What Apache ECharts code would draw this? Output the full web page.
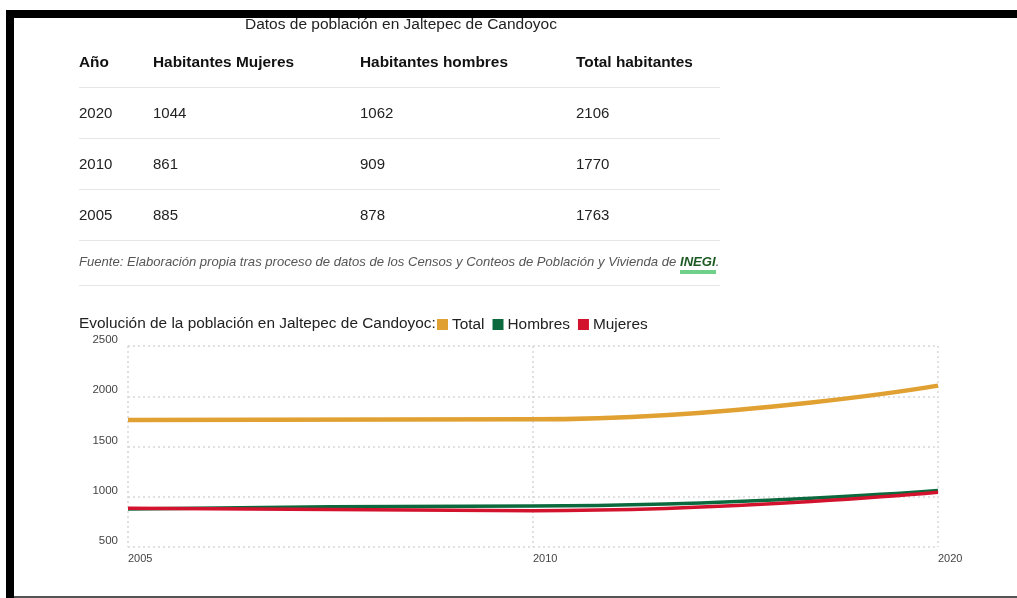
<!DOCTYPE html>
<html><head><meta charset="utf-8">
<script src="https://cdn.jsdelivr.net/npm/echarts@6/dist/echarts.min.js"></script>
<style>
html,body{margin:0;padding:0;background:#fff;width:1017px;height:598px;overflow:hidden;font-family:"Liberation Sans",Arial,sans-serif;}
.abs{position:absolute;}
#chart{position:absolute;left:0;top:0;width:1017px;height:598px;}
.hl{position:absolute;left:79px;width:641px;height:1px;background:#e6e6e6;}
.t{position:absolute;font-size:15px;color:#222;line-height:18px;white-space:nowrap;}
.th{font-weight:bold;color:#111;font-size:15.4px;}
</style></head>
<body>
<div id="chart"></div>
<div class="abs" style="left:6px;top:10px;width:1011px;height:8px;background:#000;"></div>
<div class="abs" style="left:6px;top:10px;width:8px;height:588px;background:#000;"></div>
<div class="abs" style="left:14px;top:596px;width:1003px;height:2px;background:#555;"></div>
<div id="tbl"></div>
<script>
const pageTitle = "Datos de población en Jaltepec de Candoyoc";
const tableHeaders = ["Año", "Habitantes Mujeres", "Habitantes hombres", "Total habitantes"];
const tableYears = ["2020", "2010", "2005"];
const tableMujeres = [1044, 861, 885];
const tableHombres = [1062, 909, 878];
const tableTotal = [2106, 1770, 1763];
const sourceText = "Fuente: Elaboración propia tras proceso de datos de los Censos y Conteos de Población y Vivienda de ";
const sourceLink = "INEGI";

const chartTitle = "Evolución de la población en Jaltepec de Candoyoc:";
const years = ["2005", "2010", "2020"];
const total = [1763, 1770, 2106];
const hombres = [878, 909, 1062];
const mujeres = [885, 861, 1044];
const yTicks = [500, 1000, 1500, 2000, 2500];

// HTML table
const tbl = document.getElementById('tbl');
let h = '';
h += '<div class="t" style="left:245px;top:15px;font-size:15.5px;">' + pageTitle + '</div>';
const colX = [79, 153, 360, 576];
tableHeaders.forEach((s, i) => { h += '<div class="t th" style="left:' + colX[i] + 'px;top:53px;">' + s + '</div>'; });
const lineY = [87, 138, 189, 240, 285];
lineY.forEach(y => { h += '<div class="hl" style="top:' + y + 'px;"></div>'; });
const rowY = [104, 155, 206];
tableYears.forEach((yr, r) => {
  const vals = [yr, tableMujeres[r], tableHombres[r], tableTotal[r]];
  vals.forEach((v, i) => { h += '<div class="t" style="left:' + colX[i] + 'px;top:' + rowY[r] + 'px;">' + v + '</div>'; });
});
h += '<div class="t" style="left:79px;top:253px;font-size:13.1px;font-style:italic;color:#555;">' + sourceText +
  '<span style="position:relative;font-weight:bold;color:#1c5a22;">' + sourceLink +
  '<span style="position:absolute;left:0;right:0;top:16px;height:4px;background:#6fd08a;"></span></span>.</div>';
tbl.innerHTML = h;

const chart = echarts.init(document.getElementById('chart'));
const dotted = { show: true, lineStyle: { color: '#d6d6d6', type: [2, 3], width: 1.5 } };
chart.setOption({
  animation: false,
  title: { text: chartTitle, left: 74, top: 311, textStyle: { fontSize: 15.4, fontWeight: 'normal', color: '#222', fontFamily: 'Liberation Sans' } },
  legend: {
    left: 432, top: 312, itemWidth: 11, itemHeight: 11, itemGap: 8, icon: 'rect',
    textStyle: { fontSize: 15.4, color: '#222', fontFamily: 'Liberation Sans', padding: [0, 0, 0, -1] },
    data: ['Total', 'Hombres', 'Mujeres']
  },
  grid: { left: 128, right: 79, top: 346, bottom: 51 },
  xAxis: {
    type: 'category', data: years, boundaryGap: false,
    axisLine: { show: false }, axisTick: { show: false },
    axisLabel: { align: 'left', margin: 6, fontSize: 11, color: '#444', fontFamily: 'Liberation Sans' },
    splitLine: dotted
  },
  yAxis: {
    type: 'value', min: yTicks[0], max: yTicks[yTicks.length - 1], interval: 500,
    axisLine: { show: false }, axisTick: { show: false },
    axisLabel: { verticalAlign: 'bottom', margin: 10, fontSize: 11.5, color: '#444', fontFamily: 'Liberation Sans', formatter: v => String(v) },
    splitLine: dotted
  },
  series: [
    { name: 'Total', type: 'line', data: total, smooth: true, smoothMonotone: 'x', showSymbol: false, symbol: 'none', color: '#e0a032', lineStyle: { width: 4.5, color: '#e0a032' } },
    { name: 'Hombres', type: 'line', data: hombres, smooth: true, smoothMonotone: 'x', showSymbol: false, symbol: 'none', color: '#0b6a3d', lineStyle: { width: 3.5, color: '#0b6a3d' } },
    { name: 'Mujeres', type: 'line', data: mujeres, smooth: true, smoothMonotone: 'x', showSymbol: false, symbol: 'none', color: '#d3122d', lineStyle: { width: 3.5, color: '#d3122d' } }
  ]
});
</script>
</body></html>
